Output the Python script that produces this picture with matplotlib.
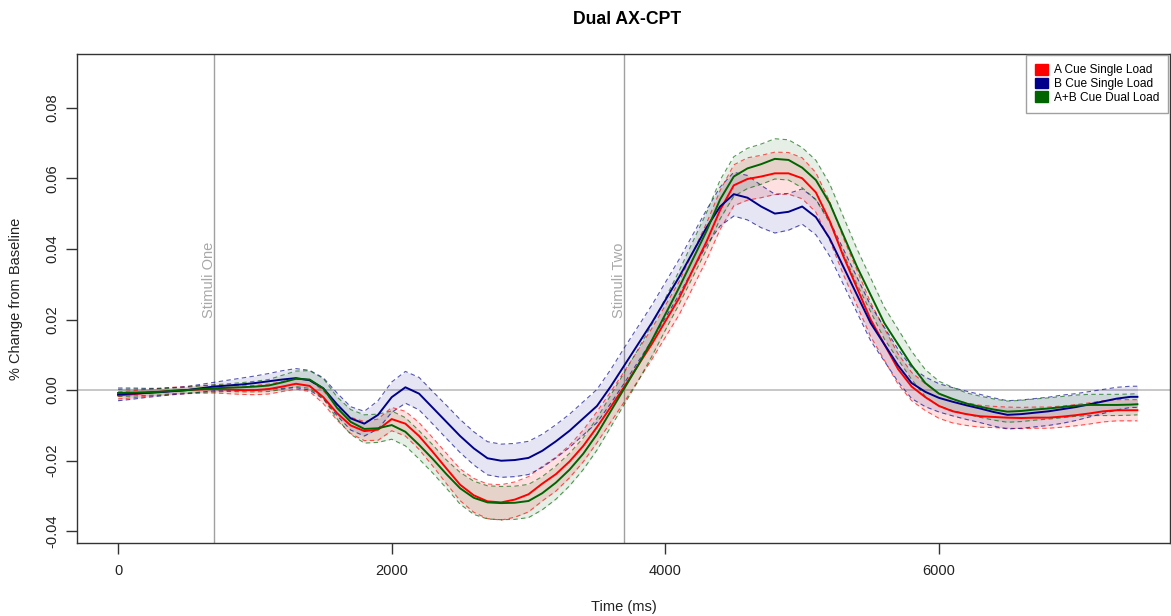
import matplotlib
matplotlib.use("Agg")
import matplotlib.pyplot as plt
import numpy as np
from matplotlib.patches import Patch

plt.rcParams['font.family'] = ['Liberation Sans', 'DejaVu Sans']

# time axis (ms)
time_ms = list(range(0, 7500, 100)) + [7450]

# mean % change from baseline
a_single = [
    -0.0015, -0.0012, -0.0008, -0.0005, -0.0002, 0.0000, 0.0002, 0.0003, 0.0002, 0.0000,
    0.0000, 0.0003, 0.0010, 0.0018, 0.0012, -0.0020, -0.0065, -0.0100, -0.0116, -0.0112,
    -0.0082, -0.0095, -0.0130, -0.0175, -0.0222, -0.0268, -0.0298, -0.0315, -0.0318, -0.0310,
    -0.0295, -0.0265, -0.0238, -0.0202, -0.0158, -0.0105, -0.0048, 0.0010, 0.0070, 0.0130,
    0.0195, 0.0260, 0.0340, 0.0420, 0.0510, 0.0580, 0.0598, 0.0605, 0.0614, 0.0614,
    0.0600, 0.0560, 0.0480, 0.0380, 0.0290, 0.0200, 0.0130, 0.0060, 0.0010, -0.0020,
    -0.0045, -0.0060, -0.0068, -0.0074, -0.0076, -0.0078, -0.0079, -0.0078, -0.0078, -0.0075,
    -0.0071, -0.0066, -0.0060, -0.0057, -0.0057, -0.0057,
]
b_single = [
    -0.0012, -0.0010, -0.0008, -0.0006, -0.0003, 0.0000, 0.0005, 0.0010, 0.0013, 0.0016,
    0.0020, 0.0025, 0.0030, 0.0034, 0.0028, 0.0005, -0.0040, -0.0080, -0.0095, -0.0070,
    -0.0020, 0.0008, -0.0010, -0.0050, -0.0090, -0.0130, -0.0165, -0.0193, -0.0200, -0.0198,
    -0.0192, -0.0172, -0.0145, -0.0115, -0.0080, -0.0045, 0.0010, 0.0070, 0.0130, 0.0190,
    0.0255, 0.0320, 0.0390, 0.0460, 0.0520, 0.0555, 0.0545, 0.0520, 0.0500, 0.0505,
    0.0520, 0.0490, 0.0430, 0.0350, 0.0270, 0.0190, 0.0130, 0.0070, 0.0020, -0.0005,
    -0.0022, -0.0033, -0.0043, -0.0052, -0.0062, -0.0070, -0.0068, -0.0064, -0.0060, -0.0054,
    -0.0048, -0.0040, -0.0032, -0.0024, -0.0019, -0.0019,
]
ab_dual = [
    -0.0008, -0.0007, -0.0006, -0.0005, -0.0002, 0.0000, 0.0003, 0.0005, 0.0007, 0.0008,
    0.0010, 0.0013, 0.0022, 0.0032, 0.0030, 0.0005, -0.0050, -0.0090, -0.0110, -0.0108,
    -0.0099, -0.0118, -0.0155, -0.0195, -0.0238, -0.0278, -0.0305, -0.0318, -0.0320, -0.0319,
    -0.0314, -0.0292, -0.0262, -0.0225, -0.0180, -0.0125, -0.0060, 0.0005, 0.0070, 0.0140,
    0.0215, 0.0290, 0.0370, 0.0450, 0.0540, 0.0605, 0.0628, 0.0640, 0.0655, 0.0652,
    0.0630, 0.0595, 0.0530, 0.0440, 0.0350, 0.0270, 0.0190, 0.0130, 0.0070, 0.0020,
    -0.0010, -0.0025, -0.0038, -0.0047, -0.0055, -0.0061, -0.0059, -0.0055, -0.0052, -0.0048,
    -0.0044, -0.0042, -0.0042, -0.0042, -0.0041, -0.0040,
]

# half-widths of the shaded bands
a_single_se = [
    0.0010, 0.0010, 0.0010, 0.0010, 0.0010, 0.0010, 0.0011, 0.0011, 0.0012, 0.0012,
    0.0013, 0.0014, 0.0014, 0.0015, 0.0016, 0.0018, 0.0020, 0.0023, 0.0027, 0.0030,
    0.0033, 0.0035, 0.0038, 0.0040, 0.0043, 0.0045, 0.0048, 0.0049, 0.0050, 0.0050,
    0.0050, 0.0049, 0.0048, 0.0046, 0.0045, 0.0044, 0.0043, 0.0043, 0.0043, 0.0044,
    0.0045, 0.0047, 0.0050, 0.0052, 0.0055, 0.0058, 0.0060, 0.0060, 0.0060, 0.0059,
    0.0058, 0.0056, 0.0055, 0.0052, 0.0050, 0.0048, 0.0045, 0.0043, 0.0040, 0.0038,
    0.0035, 0.0033, 0.0032, 0.0031, 0.0030, 0.0030, 0.0030, 0.0030, 0.0030, 0.0030,
    0.0030, 0.0030, 0.0030, 0.0030, 0.0030, 0.0030,
]
b_single_se = [
    0.0018, 0.0016, 0.0013, 0.0011, 0.0010, 0.0010, 0.0011, 0.0012, 0.0015, 0.0018,
    0.0020, 0.0022, 0.0025, 0.0027, 0.0028, 0.0030, 0.0032, 0.0033, 0.0035, 0.0040,
    0.0043, 0.0045, 0.0046, 0.0046, 0.0047, 0.0047, 0.0047, 0.0047, 0.0047, 0.0047,
    0.0047, 0.0047, 0.0047, 0.0047, 0.0047, 0.0047, 0.0048, 0.0050, 0.0050, 0.0050,
    0.0050, 0.0050, 0.0050, 0.0050, 0.0055, 0.0062, 0.0063, 0.0060, 0.0055, 0.0052,
    0.0050, 0.0050, 0.0050, 0.0050, 0.0050, 0.0050, 0.0048, 0.0046, 0.0044, 0.0042,
    0.0040, 0.0040, 0.0040, 0.0040, 0.0040, 0.0040, 0.0040, 0.0040, 0.0040, 0.0040,
    0.0038, 0.0036, 0.0034, 0.0032, 0.0030, 0.0030,
]
ab_dual_se = [
    0.0010, 0.0010, 0.0009, 0.0009, 0.0008, 0.0008, 0.0009, 0.0010, 0.0011, 0.0013,
    0.0015, 0.0017, 0.0020, 0.0022, 0.0025, 0.0028, 0.0031, 0.0035, 0.0040, 0.0040,
    0.0040, 0.0040, 0.0040, 0.0040, 0.0040, 0.0045, 0.0047, 0.0047, 0.0047, 0.0047,
    0.0047, 0.0047, 0.0047, 0.0046, 0.0045, 0.0045, 0.0045, 0.0045, 0.0045, 0.0045,
    0.0045, 0.0047, 0.0050, 0.0052, 0.0055, 0.0056, 0.0057, 0.0057, 0.0057, 0.0057,
    0.0057, 0.0056, 0.0055, 0.0052, 0.0050, 0.0048, 0.0045, 0.0043, 0.0040, 0.0038,
    0.0035, 0.0033, 0.0030, 0.0030, 0.0030, 0.0030, 0.0030, 0.0030, 0.0030, 0.0030,
    0.0030, 0.0030, 0.0030, 0.0030, 0.0030, 0.0030,
]

series_labels = ["A Cue Single Load", "B Cue Single Load", "A+B Cue Dual Load"]
series_colors = ["#ff0000", "#00008b", "#006400"]
fill_alpha = [0.12, 0.10, 0.10]

stimuli_times = [700, 3700]
stimuli_labels = ["Stimuli One", "Stimuli Two"]

fig = plt.figure(figsize=(11.71, 6.16), dpi=100)
ax = fig.add_axes([77 / 1171, 73 / 616, 1093 / 1171, 489 / 616])

t = np.array(time_ms)
means = [np.array(a_single), np.array(b_single), np.array(ab_dual)]
ses = [np.array(a_single_se), np.array(b_single_se), np.array(ab_dual_se)]

# reference lines
ax.axhline(0, color="#bdbdbd", lw=1.2, zorder=1)
for st, lab in zip(stimuli_times, stimuli_labels):
    ax.axvline(st, color="#a0a0a0", lw=1.0, zorder=1)
    ax.text(st + 15, 0.0205, lab, rotation=90, ha="right", va="bottom",
            color="#a8a8a8", fontsize=10.5)

# bands
for m, s, c, a in zip(means, ses, series_colors, fill_alpha):
    ax.fill_between(t, m - s, m + s, color=c, alpha=a, lw=0, zorder=2)
for m, s, c in zip(means, ses, series_colors):
    ax.plot(t, m + s, color=c, lw=0.8, ls=(0, (4, 3)), alpha=0.65, zorder=3)
    ax.plot(t, m - s, color=c, lw=0.8, ls=(0, (4, 3)), alpha=0.65, zorder=3)

# means
for m, c in zip(means, series_colors):
    ax.plot(t, m, color=c, lw=1.4, zorder=4)

ax.set_xlim(-300, 7688)
ax.set_ylim(-0.0433, 0.0952)
ax.set_xticks([0, 2000, 4000, 6000])
ax.set_yticks([-0.04, -0.02, 0.0, 0.02, 0.04, 0.06, 0.08])
ax.set_yticklabels(["-0.04", "-0.02", "0.00", "0.02", "0.04", "0.06", "0.08"],
                   rotation=90, va="center")
ax.tick_params(axis="both", direction="out", length=8, width=1, labelsize=10.5,
               colors="#333333", labelcolor="#222222", pad=7)
ax.tick_params(axis="y", pad=5)
for sp in ax.spines.values():
    sp.set_color("#333333")
    sp.set_linewidth(1.0)

ax.set_xlabel("Time (ms)", fontsize=10.5, color="#222222")
ax.xaxis.set_label_coords(0.5, -0.117)
ax.set_ylabel("% Change from Baseline", fontsize=10.5, color="#222222")
ax.yaxis.set_label_coords(-0.0494, 0.5)

fig.text(627 / 1171, 1 - 20 / 616, "Dual AX-CPT", ha="center", va="center",
         fontsize=12.7, fontweight="bold")

handles = [Patch(facecolor=c, edgecolor=c) for c in series_colors]
leg = ax.legend(handles, series_labels, loc="upper right",
                bbox_to_anchor=(1168 / 1171, 1 - 55 / 616),
                bbox_transform=fig.transFigure, borderaxespad=0,
                fontsize=8.6, frameon=True, fancybox=False, framealpha=1,
                handlelength=1.1, handleheight=1.0, handletextpad=0.5,
                labelspacing=0.1, borderpad=0.75)
leg.get_frame().set_edgecolor("#a0a0a0")
leg.get_frame().set_linewidth(1.0)

fig.savefig("out.png", dpi=100)
